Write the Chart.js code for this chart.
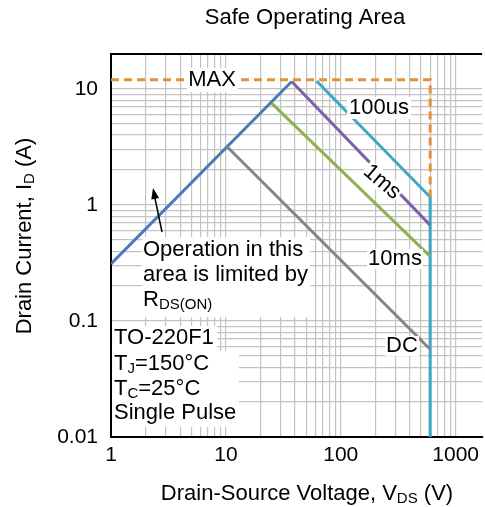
<!DOCTYPE html>
<html>
<head>
<meta charset="utf-8">
<title>Safe Operating Area</title>
<script src="https://cdn.jsdelivr.net/npm/chart.js@4.4.1/dist/chart.umd.min.js"></script>
<style>
    html, body { margin: 0; padding: 0; background: #fff; }
    #soaChart { display: block; }
</style>
</head>
<body>
<canvas id="soaChart" width="485" height="507"></canvas>
<script>
// tick labels
const xTickLabels = [1, 10, 100, 1000];
const yTickLabels = [0.01, 0.1, 1, 10];

// series values (V_DS in V, I_D in A)
const rdsV = [1, 37.4];
const rdsI = [0.31, 11.6];
const us100V = [61.5, 600, 600];
const us100I = [11.7, 1.17, 0.01];
const ms1V = [37.4, 600];
const ms1I = [11.6, 0.67];
const ms10V = [25.1, 600];
const ms10I = [7.5, 0.36];
const dcV = [10.3, 600];
const dcI = [3.16, 0.057];
const maxV = [1, 600, 600];
const maxI = [12, 12, 1.17];

const FONT_FAMILY = '"Liberation Sans", Arial, sans-serif';
const FONT = '22px ' + FONT_FAMILY;
const SUB_FONT = '15px ' + FONT_FAMILY;

function toPoints(xs, ys) {
    return xs.map((x, i) => ({ x: x, y: ys[i] }));
}

function minorTicks(min, max) {
    const vals = [];
    for (let d = Math.pow(10, Math.floor(Math.log10(min))); d <= max; d *= 10) {
        for (let m = 1; m < 10; m++) {
            const v = +(m * d).toPrecision(3);
            if (v >= min && v <= max) vals.push(v);
        }
    }
    return vals;
}

// text made of parts, each part [text, isSubscript]
function richWidth(ctx, parts) {
    let w = 0;
    parts.forEach(p => {
        ctx.font = p[1] ? SUB_FONT : FONT;
        w += ctx.measureText(p[0]).width;
    });
    return w;
}

function drawRich(ctx, parts, x, y, align) {
    let cx = align === 'center' ? x - richWidth(ctx, parts) / 2 : x;
    ctx.textAlign = 'left';
    ctx.textBaseline = 'middle';
    parts.forEach(p => {
        ctx.font = p[1] ? SUB_FONT : FONT;
        ctx.fillText(p[0], cx, p[1] ? y + 5 : y);
        cx += ctx.measureText(p[0]).width;
    });
}

function whiteBox(ctx, x1, y1, x2, y2) {
    ctx.fillStyle = '#fff';
    ctx.fillRect(x1, y1, x2 - x1, y2 - y1);
    ctx.fillStyle = '#000';
}

const notesPlugin = {
    id: 'notes',
    afterDatasetsDraw(chart) {
        const ctx = chart.ctx;
        const area = chart.chartArea;
        ctx.save();

        // top border of the plot
        ctx.strokeStyle = '#000';
        ctx.lineWidth = 2;
        ctx.beginPath();
        ctx.moveTo(area.left, area.top);
        ctx.lineTo(area.right, area.top);
        ctx.stroke();

        ctx.fillStyle = '#000';

        // curve labels
        whiteBox(ctx, 187, 68, 238, 92);
        drawRich(ctx, [['MAX']], 212, 80, 'center');
        whiteBox(ctx, 347, 97, 411, 119);
        drawRich(ctx, [['100us']], 379, 108, 'center');
        whiteBox(ctx, 367, 249, 423, 269);
        drawRich(ctx, [['10ms']], 395, 259, 'center');
        whiteBox(ctx, 385, 336, 419, 356);
        drawRich(ctx, [['DC']], 402, 346, 'center');

        ctx.save();
        ctx.translate(382, 182);
        ctx.rotate(40 * Math.PI / 180);
        whiteBox(ctx, -22, -10, 22, 10);
        drawRich(ctx, [['1ms']], 0, 0, 'center');
        ctx.restore();

        // R_DS(on) note
        whiteBox(ctx, 142, 237, 310, 317);
        drawRich(ctx, [['Operation in this']], 143, 250, 'left');
        drawRich(ctx, [['area is limited by']], 143, 275, 'left');
        drawRich(ctx, [['R'], ['DS(ON)', true]], 143, 300, 'left');

        // arrow
        ctx.strokeStyle = '#000';
        ctx.lineWidth = 1.5;
        ctx.beginPath();
        ctx.moveTo(162, 232);
        ctx.lineTo(154.5, 196);
        ctx.stroke();
        const ang = Math.atan2(188 - 232, 153 - 162);
        ctx.beginPath();
        ctx.moveTo(153, 188);
        ctx.lineTo(153 - 11 * Math.cos(ang) + 4 * Math.sin(ang), 188 - 11 * Math.sin(ang) - 4 * Math.cos(ang));
        ctx.lineTo(153 - 11 * Math.cos(ang) - 4 * Math.sin(ang), 188 - 11 * Math.sin(ang) + 4 * Math.cos(ang));
        ctx.closePath();
        ctx.fill();

        // test conditions
        whiteBox(ctx, area.left + 1, 326, 217, 351);
        whiteBox(ctx, area.left + 1, 351, 239, 427);
        drawRich(ctx, [['TO-220F1']], 114, 338, 'left');
        drawRich(ctx, [['T'], ['J', true], ['=150°C']], 114, 364, 'left');
        drawRich(ctx, [['T'], ['C', true], ['=25°C']], 114, 389, 'left');
        drawRich(ctx, [['Single Pulse']], 114, 413, 'left');

        ctx.restore();
    },
    afterDraw(chart) {
        const ctx = chart.ctx;
        ctx.save();
        ctx.fillStyle = '#000';
        drawRich(ctx, [['Safe Operating Area']], 305, 18, 'center');
        drawRich(ctx, [['Drain-Source Voltage, V'], ['DS', true], [' (V)']], 307, 494, 'center');
        ctx.translate(25, 236);
        ctx.rotate(-Math.PI / 2);
        drawRich(ctx, [['Drain Current, I'], ['D', true], [' (A)']], 0, 0, 'center');
        ctx.restore();
    }
};

function lineSet(label, xs, ys, color, extra) {
    return Object.assign({
        label: label,
        data: toPoints(xs, ys),
        borderColor: color,
        borderWidth: 3,
        pointRadius: 0,
        tension: 0,
        fill: false
    }, extra || {});
}

const gridStyle = {
    color: '#c3c3c3',
    lineWidth: 1.2,
    drawTicks: false
};

const ctx = document.getElementById('soaChart').getContext('2d');
new Chart(ctx, {
    type: 'line',
    data: {
        datasets: [
            lineSet('MAX', maxV, maxI, '#e98f3c', { borderDash: [8, 5] }),
            lineSet('DC', dcV, dcI, '#858585'),
            lineSet('10ms', ms10V, ms10I, '#8cb351'),
            lineSet('1ms', ms1V, ms1I, '#7a62a8'),
            lineSet('100us', us100V, us100I, '#3ea6c6'),
            lineSet('RDS(on) limit', rdsV, rdsI, '#4a7ab7')
        ]
    },
    options: {
        responsive: false,
        animation: false,
        layout: { padding: { top: 54, left: 0, right: 0, bottom: 0 } },
        plugins: {
            legend: { display: false },
            title: { display: false },
            tooltip: { enabled: false }
        },
        scales: {
            x: {
                type: 'logarithmic',
                min: 1,
                max: 1700,
                afterBuildTicks: scale => {
                    scale.ticks = minorTicks(1, 1700).map(v => ({ value: v }));
                },
                afterFit: scale => { scale.height = 70; },
                ticks: {
                    autoSkip: false,
                    maxRotation: 0,
                    padding: 6,
                    color: '#000',
                    font: { family: FONT_FAMILY, size: 21 },
                    callback: (value, index, ticks) => {
                        const v = ticks[index].value;
                        return xTickLabels.includes(v) ? String(v) : '';
                    }
                },
                grid: gridStyle,
                border: { color: '#000', width: 2 }
            },
            y: {
                type: 'logarithmic',
                min: 0.01,
                max: 20,
                afterBuildTicks: scale => {
                    scale.ticks = minorTicks(0.01, 20).map(v => ({ value: v }));
                },
                afterFit: scale => { scale.width = 111; },
                ticks: {
                    autoSkip: false,
                    padding: 13,
                    color: '#000',
                    font: { family: FONT_FAMILY, size: 21 },
                    callback: (value, index, ticks) => {
                        const v = ticks[index].value;
                        return yTickLabels.includes(v) ? String(v) : '';
                    }
                },
                grid: gridStyle,
                border: { color: '#000', width: 2 }
            }
        }
    },
    plugins: [notesPlugin]
});
</script>
</body>
</html>
